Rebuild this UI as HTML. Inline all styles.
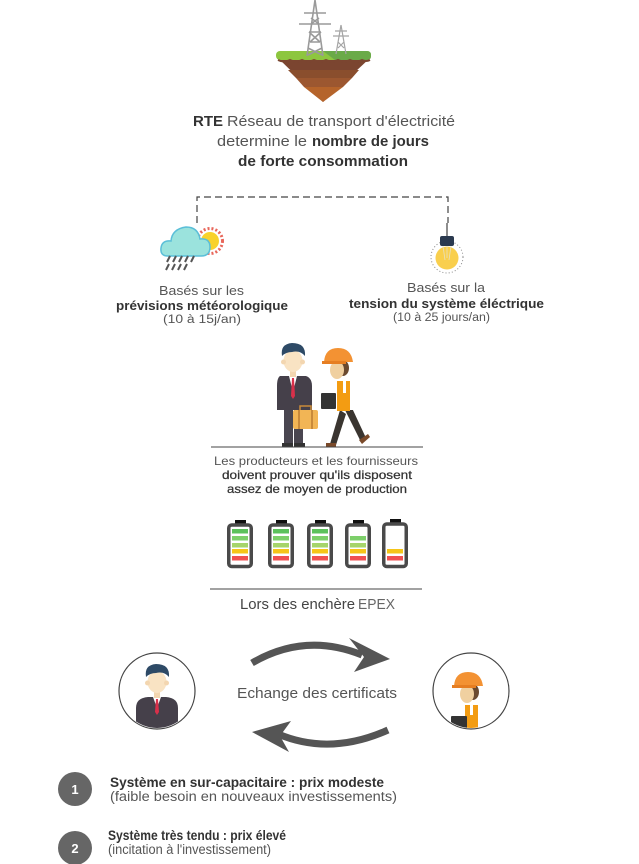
<!DOCTYPE html>
<html><head><meta charset="utf-8"><style>
html,body{margin:0;padding:0;background:#fff;}
svg{display:block;}
text{font-family:"Liberation Sans",sans-serif;fill:#555;}
.b{font-weight:bold;fill:#333;}
</style></head><body>
<svg width="639" height="864" viewBox="0 0 639 864" xmlns="http://www.w3.org/2000/svg">
<defs>
<clipPath id="cl"><circle cx="157" cy="691" r="37"/></clipPath>
<clipPath id="cr"><circle cx="471" cy="691" r="37"/></clipPath>
</defs>

<!-- Top ground + towers -->
<g>
  <polygon points="278,58 370,58 323,102" fill="#7b4530"/>
  <polygon points="288,70 359,70 352,78 296,78" fill="#8a4e2d"/>
  <polygon points="296,78 352,78 343,87 304,87" fill="#9c5730"/>
  <polygon points="304,87 343,87 323,102" fill="#b5642b"/>
  <rect x="276" y="51" width="95" height="9" rx="4" fill="#8dc63f"/>
  <path d="M323,51 L367,51 Q371,51 371,55 L371,56 Q371,60 367,60 L335,60 Z" fill="#6aaa48"/>
  <path d="M278,60 Q284,63 290,60 Q296,63 302,60 Q308,63 314,60 Q320,63 326,60 Q332,63 338,60 Q344,63 350,60 Q356,63 362,60 Q366,62 370,60" fill="none" stroke="#7b4530" stroke-width="2"/>
  <g stroke="#9a9a9a" stroke-width="1.6" fill="none">
    <path d="M315,0 L307,56 M315,0 L323,56 M304,13 L326,13 M299,24 L331,24 M309,32 L321,32 M310,42 L320,42 M309,32 L320,42 M321,32 L310,42 M308,48 L322,55 M322,48 L308,55 M311,18 L319,24 M319,18 L311,24"/>
  </g>
  <g stroke="#a5a5a5" stroke-width="1.2" fill="none">
    <path d="M341,25 L336,54 M341,25 L346,54 M335,31 L347,31 M333,36 L349,36 M338,42 L344,48 M344,42 L338,48"/>
  </g>
</g>

<!-- Title text -->
<text x="193" y="126" font-size="15" class="b" textLength="30" lengthAdjust="spacingAndGlyphs">RTE</text>
<text x="227" y="126" font-size="15" textLength="228" lengthAdjust="spacingAndGlyphs">Réseau de transport d'électricité</text>
<text x="217" y="146" font-size="15" textLength="90" lengthAdjust="spacingAndGlyphs">determine le</text>
<text x="312" y="146" font-size="15" class="b" textLength="117" lengthAdjust="spacingAndGlyphs">nombre de jours</text>
<text x="238" y="166" font-size="15" class="b" textLength="170" lengthAdjust="spacingAndGlyphs">de forte consommation</text>

<!-- dashed connector -->
<path d="M197,223 L197,197 L448,197 L448,223" fill="none" stroke="#444" stroke-width="1.2" stroke-dasharray="7,4"/>

<!-- cloud/sun -->
<g>
  <circle cx="210" cy="241" r="12.5" fill="none" stroke="#e8665a" stroke-width="3" stroke-dasharray="2,2"/>
  <circle cx="210" cy="241" r="9" fill="#f8d22c"/>
  <g fill="#9be3dd" stroke="#5bbfd8" stroke-width="1.5">
    <path d="M168,256 Q160,256 161,248 Q162,240 171,241 Q172,229 186,227 Q198,227 200,239 Q210,238 210,247 Q210,256 201,256 Z"/>
  </g>
  <g stroke="#555" stroke-width="2">
    <path d="M170,256 L167,262 M176,256 L173,262 M182,256 L179,262 M188,256 L185,262 M194,256 L191,262 M169,264 L166,270 M175,264 L172,270 M181,264 L178,270 M187,264 L184,270"/>
  </g>
</g>

<!-- bulb -->
<g>
  <line x1="447" y1="223" x2="447" y2="236" stroke="#444" stroke-width="1.2"/>
  <circle cx="447" cy="257" r="16" fill="none" stroke="#888" stroke-width="1" stroke-dasharray="1,2.2"/>
  <circle cx="447" cy="258" r="11.5" fill="#f9cf4d"/>
  <rect x="440" y="236" width="14" height="10" rx="2" fill="#2b3a4f"/>
  <path d="M443,246 L445,260 M451,246 L449,260 M447,246 L447,258" stroke="#e8e0c0" stroke-width="0.8"/>
</g>

<!-- left/right labels -->
<text x="159" y="295" font-size="13" textLength="85" lengthAdjust="spacingAndGlyphs">Basés sur les</text>
<text x="116" y="310" font-size="13" class="b" textLength="172" lengthAdjust="spacingAndGlyphs">prévisions météorologique</text>
<text x="163" y="323" font-size="11.5" textLength="78" lengthAdjust="spacingAndGlyphs">(10 à 15j/an)</text>
<text x="407" y="292" font-size="13" textLength="78" lengthAdjust="spacingAndGlyphs">Basés sur la</text>
<text x="349" y="308" font-size="13" class="b" textLength="195" lengthAdjust="spacingAndGlyphs">tension du système éléctrique</text>
<text x="393" y="321" font-size="11.5" textLength="97" lengthAdjust="spacingAndGlyphs">(10 à 25 jours/an)</text>

<!-- people -->
<g>
  <rect x="284" y="410" width="9" height="35" fill="#4a4650"/>
  <rect x="294" y="410" width="9" height="35" fill="#4a4650"/>
  <rect x="282" y="443" width="11" height="4" fill="#333"/>
  <rect x="294" y="443" width="11" height="4" fill="#333"/>
  <path d="M280,376 L306,376 Q312,378 312,386 L312,410 L277,410 L277,386 Q277,378 280,376 Z" fill="#45404a"/>
  <polygon points="289,376 297,376 293,392" fill="#fff"/>
  <polygon points="292,378 294,378 295,396 293,399 291,396" fill="#d8304a"/>
  <rect x="290" y="369" width="6" height="8" fill="#f3d6b0"/>
  <ellipse cx="293" cy="361" rx="9.5" ry="11" fill="#f9e3c3"/>
  <circle cx="283.5" cy="362" r="2.5" fill="#f3d6b0"/>
  <circle cx="302.5" cy="362" r="2.5" fill="#f3d6b0"/>
  <path d="M282,356 Q280,344 292,343 Q306,343 305,356 Q300,350 292,352 Q286,352 282,356 Z" fill="#2e4a66"/>
  <rect x="293" y="410" width="25" height="19" rx="2" fill="#f2b555"/>
  <rect x="298" y="410" width="2" height="19" fill="#c98a3a"/>
  <rect x="311" y="410" width="2" height="19" fill="#c98a3a"/>
  <path d="M300,410 L300,406 L311,406 L311,410" fill="none" stroke="#c98a3a" stroke-width="1.5"/>
  <path d="M340,410 L330,444 L336,445 L346,414 Z" fill="#3a3530"/>
  <path d="M345,410 L360,440 L366,438 L352,408 Z" fill="#3a3530"/>
  <rect x="326" y="443" width="10" height="4" fill="#7a4a2a"/>
  <polygon points="359,440 368,434 370,437 362,444" fill="#7a4a2a"/>
  <path d="M335,380 L352,380 Q358,382 358,392 L358,410 L336,410 Z" fill="#fff"/>
  <rect x="337" y="381" width="13" height="30" fill="#f39c12"/>
  <rect x="343" y="381" width="3" height="12" fill="#fff"/>
  <rect x="321" y="393" width="15" height="16" rx="1" fill="#333"/>
  <ellipse cx="343" cy="368" rx="6" ry="8" fill="#6b4a30"/>
  <ellipse cx="337" cy="370" rx="7" ry="9" fill="#f0d0a0"/>
  <path d="M324,362 Q325,348 338,348 Q351,348 353,362 Z" fill="#f39233"/>
  <rect x="322" y="361" width="24" height="3" fill="#e67e22"/>
</g>
<line x1="211" y1="447" x2="423" y2="447" stroke="#444" stroke-width="1"/>
<text x="214" y="465" font-size="12" textLength="204" lengthAdjust="spacingAndGlyphs">Les producteurs et les fournisseurs</text>
<text x="222" y="479" font-size="12" style="fill:#333" stroke="#333" stroke-width="0.25" textLength="190" lengthAdjust="spacingAndGlyphs">doivent prouver qu'ils disposent</text>
<text x="227" y="493" font-size="12" style="fill:#333" stroke="#333" stroke-width="0.25" textLength="180" lengthAdjust="spacingAndGlyphs">assez de moyen de production</text>

<!-- batteries -->
<g>
  <g transform="translate(227,520)">
    <rect x="8" y="0" width="11" height="5" fill="#111"/>
    <rect x="1.75" y="5" width="22.5" height="41.5" rx="3" fill="#fff" stroke="#4a4a4a" stroke-width="3.5"/>
    <rect x="5" y="9" width="16" height="4.5" fill="#5cc15c"/>
    <rect x="5" y="16" width="16" height="4.5" fill="#7dcf6a"/>
    <rect x="5" y="23" width="16" height="4.5" fill="#a6d46a"/>
    <rect x="5" y="29" width="16" height="4.5" fill="#f5c518"/>
    <rect x="5" y="36" width="16" height="4.5" fill="#f05050"/>
  </g>
  <g transform="translate(268,520)">
    <rect x="8" y="0" width="11" height="5" fill="#111"/>
    <rect x="1.75" y="5" width="22.5" height="41.5" rx="3" fill="#fff" stroke="#4a4a4a" stroke-width="3.5"/>
    <rect x="5" y="9" width="16" height="4.5" fill="#5cc15c"/>
    <rect x="5" y="16" width="16" height="4.5" fill="#7dcf6a"/>
    <rect x="5" y="23" width="16" height="4.5" fill="#a6d46a"/>
    <rect x="5" y="29" width="16" height="4.5" fill="#f5c518"/>
    <rect x="5" y="36" width="16" height="4.5" fill="#f05050"/>
  </g>
  <g transform="translate(307,520)">
    <rect x="8" y="0" width="11" height="5" fill="#111"/>
    <rect x="1.75" y="5" width="22.5" height="41.5" rx="3" fill="#fff" stroke="#4a4a4a" stroke-width="3.5"/>
    <rect x="5" y="9" width="16" height="4.5" fill="#5cc15c"/>
    <rect x="5" y="16" width="16" height="4.5" fill="#7dcf6a"/>
    <rect x="5" y="23" width="16" height="4.5" fill="#a6d46a"/>
    <rect x="5" y="29" width="16" height="4.5" fill="#f5c518"/>
    <rect x="5" y="36" width="16" height="4.5" fill="#f05050"/>
  </g>
  <g transform="translate(345,520)">
    <rect x="8" y="0" width="11" height="5" fill="#111"/>
    <rect x="1.75" y="5" width="22.5" height="41.5" rx="3" fill="#fff" stroke="#4a4a4a" stroke-width="3.5"/>
    <rect x="5" y="16" width="16" height="4.5" fill="#7dcf6a"/>
    <rect x="5" y="23" width="16" height="4.5" fill="#a6d46a"/>
    <rect x="5" y="29" width="16" height="4.5" fill="#f5c518"/>
    <rect x="5" y="36" width="16" height="4.5" fill="#f05050"/>
  </g>
  <g transform="translate(382,519)">
    <rect x="8" y="0" width="11" height="5" fill="#111"/>
    <rect x="1.75" y="5" width="22.5" height="42.5" rx="3" fill="#fff" stroke="#4a4a4a" stroke-width="3.5"/>
    <rect x="5" y="30" width="16" height="4.5" fill="#f5c518"/>
    <rect x="5" y="37" width="16" height="4.5" fill="#f05050"/>
  </g>
</g>
<line x1="210" y1="589" x2="422" y2="589" stroke="#444" stroke-width="1"/>
<text x="240" y="609" font-size="15" style="fill:#444" textLength="115" lengthAdjust="spacingAndGlyphs">Lors des enchère</text>
<text x="358" y="609" font-size="15" style="fill:#666" textLength="37" lengthAdjust="spacingAndGlyphs">EPEX</text>

<!-- arrows -->
<path d="M252,663 Q305,632 362,655" fill="none" stroke="#555" stroke-width="7"/>
<polygon points="349,638 390,659 354,672 364,657" fill="#555"/>
<path d="M388,730 Q330,756 278,734" fill="none" stroke="#555" stroke-width="7"/>
<polygon points="291,721 252,732 289,752 280,736" fill="#555"/>
<text x="237" y="698" font-size="15" textLength="160" lengthAdjust="spacingAndGlyphs">Echange des certificats</text>

<!-- left circle portrait -->
<g clip-path="url(#cl)">
  <path d="M136,708 Q136,698 148,697 L166,697 Q178,698 178,708 L178,730 L136,730 Z" fill="#45404a"/>
  <polygon points="153,697 161,697 157,708" fill="#fff"/>
  <polygon points="156,699 158,699 159,712 157,715 155,712" fill="#d8304a"/>
  <rect x="154" y="690" width="6" height="8" fill="#f3d6b0"/>
  <ellipse cx="157" cy="682" rx="9.5" ry="11" fill="#f9e3c3"/>
  <circle cx="147.5" cy="683" r="2.5" fill="#f3d6b0"/>
  <circle cx="166.5" cy="683" r="2.5" fill="#f3d6b0"/>
  <path d="M146,677 Q144,665 156,664 Q170,664 169,677 Q164,671 156,673 Q150,673 146,677 Z" fill="#2e4a66"/>
</g>
<circle cx="157" cy="691" r="38" fill="none" stroke="#444" stroke-width="1.2"/>

<!-- right circle portrait -->
<g clip-path="url(#cr)">
  <path d="M462,704 L480,704 Q488,706 488,716 L488,730 L462,730 Z" fill="#fff"/>
  <rect x="465" y="705" width="13" height="26" fill="#f39c12"/>
  <rect x="470" y="705" width="3" height="10" fill="#fff"/>
  <rect x="451" y="716" width="16" height="16" rx="1" fill="#333"/>
  <ellipse cx="473" cy="692" rx="6" ry="8" fill="#6b4a30"/>
  <ellipse cx="467" cy="694" rx="7" ry="9" fill="#f0d0a0"/>
  <path d="M454,686 Q455,672 468,672 Q481,672 483,686 Z" fill="#f39233"/>
  <rect x="452" y="685" width="24" height="3" fill="#e67e22"/>
</g>
<circle cx="471" cy="691" r="38" fill="none" stroke="#444" stroke-width="1.2"/>

<!-- numbered items -->
<circle cx="75" cy="789" r="17" fill="#666"/>
<text x="75" y="794" font-size="13" font-weight="bold" style="fill:#fff" text-anchor="middle">1</text>
<text x="110" y="787" font-size="13.5" class="b" textLength="274" lengthAdjust="spacingAndGlyphs">Système en sur-capacitaire : prix modeste</text>
<text x="110" y="801" font-size="13.5" textLength="287" lengthAdjust="spacingAndGlyphs">(faible besoin en nouveaux investissements)</text>

<circle cx="75" cy="848" r="17" fill="#666"/>
<text x="75" y="853" font-size="13" font-weight="bold" style="fill:#fff" text-anchor="middle">2</text>
<text x="108" y="840" font-size="13.5" class="b" textLength="178" lengthAdjust="spacingAndGlyphs">Système très tendu : prix élevé</text>
<text x="108" y="854" font-size="13.5" textLength="163" lengthAdjust="spacingAndGlyphs">(incitation à l'investissement)</text>
</svg>
</body></html>
